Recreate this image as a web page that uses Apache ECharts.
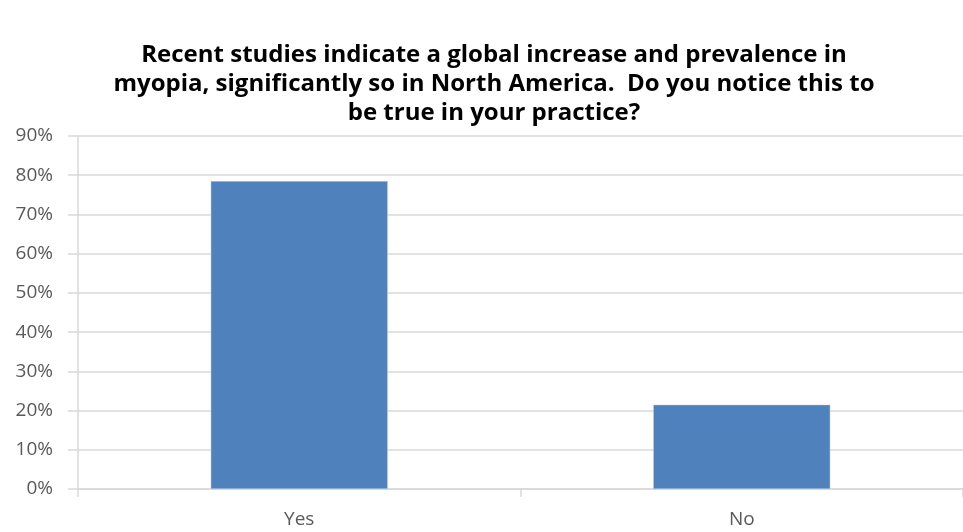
<!DOCTYPE html>
<html>
<head>
<meta charset="utf-8">
<script src="https://cdn.jsdelivr.net/npm/echarts@6/dist/echarts.min.js"></script>
<style>
html,body{margin:0;padding:0;background:#fff;}
#c{width:963px;height:532px;}
</style>
</head>
<body>
<div id="c"></div>
<script>
const titleText = "Recent studies indicate a global increase and prevalence in\nmyopia, significantly so in North America.  Do you notice this to\nbe true in your practice?";
const categories = ["Yes", "No"];
const values = [78.5, 21.5];
const yTicks = [0, 10, 20, 30, 40, 50, 60, 70, 80, 90];

const chart = echarts.init(document.getElementById('c'));
chart.setOption({
  animation: false,
  title: {
    text: titleText,
    left: 489,
    top: 36,
    textAlign: 'center',
    textStyle: {
      fontFamily: 'Open Sans',
      fontWeight: 'bold',
      fontSize: 24,
      lineHeight: 29,
      color: '#000'
    }
  },
  grid: { left: 78, top: 136, width: 890, height: 353, containLabel: false },
  xAxis: {
    type: 'category',
    data: categories,
    axisLine: { show: true, lineStyle: { color: '#D9D9D9', width: 1.5 } },
    axisTick: { show: true, length: 8, lineStyle: { color: '#D9D9D9', width: 1.5 } },
    axisLabel: { color: '#595959', fontFamily: 'Open Sans', fontSize: 19, margin: 21 }
  },
  yAxis: {
    type: 'value',
    min: yTicks[0],
    max: yTicks[yTicks.length - 1],
    interval: 10,
    axisLine: { show: true, lineStyle: { color: '#D9D9D9', width: 1.5 } },
    axisTick: { show: true, length: 10, lineStyle: { color: '#D9D9D9', width: 1.5 } },
    splitLine: { show: true, lineStyle: { color: '#D9D9D9', width: 1.5 } },
    axisLabel: { color: '#595959', fontFamily: 'Open Sans', fontSize: 19, margin: 25, formatter: v => v + '%' }
  },
  series: [{
    type: 'bar',
    data: values,
    barWidth: '40%',
    itemStyle: { color: '#4F81BD', borderColor: '#BCD0E8', borderWidth: 0.5 }
  }]
});
</script>
</body>
</html>
